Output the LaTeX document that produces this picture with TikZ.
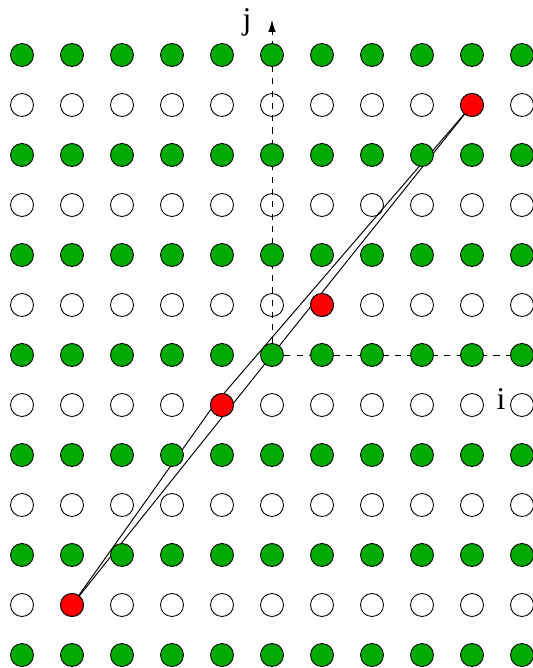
\documentclass[tikz,border=0pt]{standalone}
\usepackage{fontspec}
\setmainfont{Liberation Serif}
\usetikzlibrary{arrows.meta}
\definecolor{dotgreen}{RGB}{0,170,0}
\tikzset{
  dot/.style={circle,draw,line width=0.5pt,inner sep=0pt,minimum size=0.46cm},
  greendot/.style={dot,fill=dotgreen},
  whitedot/.style={dot},
  reddot/.style={dot,fill=red},
  axis/.style={line width=0.5pt,dash pattern=on 3.5pt off 3.5pt}
}
\begin{document}
\begin{tikzpicture}
\useasboundingbox (-5.44,-6.26) rectangle (5.2,7.1);

\coordinate (o) at (0,0);
\coordinate (pa) at (-4,-5);
\coordinate (pb) at (-1,-1);
\coordinate (pc) at (1,1);
\coordinate (pd) at (4,5);
\coordinate (bend) at (-1.16,-1);
\coordinate (jtip) at (0,6.7);
\coordinate (iend) at (5.2,0);

\draw[axis,-{Latex[length=2.4mm,width=1.5mm]}] (o) -- (jtip);
\draw[axis] (o) -- (iend);

\draw[line width=0.55pt] (pa) -- (pd);
\draw[line width=0.55pt] (pa) -- (bend) -- (pd);

\foreach \j in {-6,-4,...,6}
  \foreach \i in {-5,...,5}
    \node[greendot] (g\i\j) at (\i,\j) {};
\foreach \j in {-5,-3,...,5}
  \foreach \i in {-5,...,5}
    \node[whitedot] (w\i\j) at (\i,\j) {};

\node[reddot] (ra) at (pa) {};
\node[reddot] (rb) at (pb) {};
\node[reddot] (rc) at (pc) {};
\node[reddot] (rd) at (pd) {};

\fontsize{18}{20}\selectfont
\node (jlab) at (-0.5,6.66) {j};
\node (ilab) at (4.58,-0.88) {i};

\end{tikzpicture}
\end{document}
